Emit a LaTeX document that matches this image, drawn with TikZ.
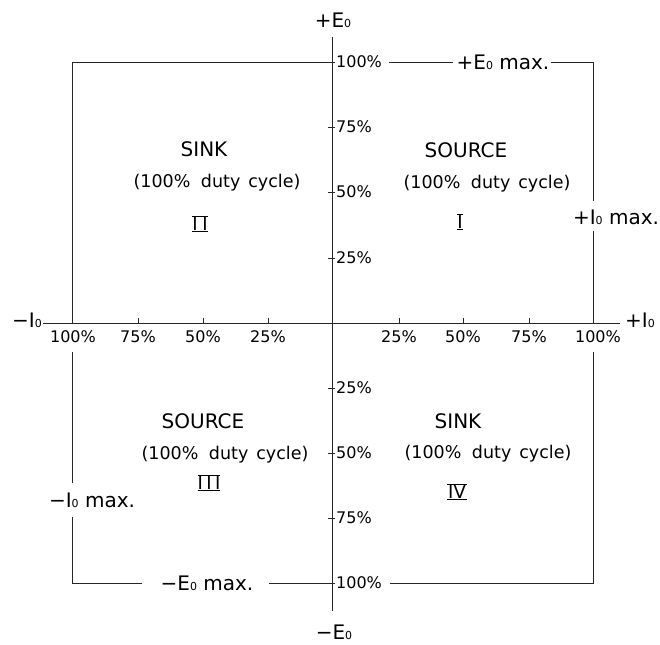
\documentclass[tikz,border=0pt]{standalone}
\usepackage{fontspec}
\setmainfont{DejaVu Sans}
\usepackage{graphicx}
\usetikzlibrary{calc}
\newcommand\zs{\scalebox{0.55}{0}}
\newcommand\dutytext{(100\%\hspace{0.6em}duty\hspace{0.45em}cycle)}
\newcommand\rn[1]{\vbox{\offinterlineskip\hrule height 0.9pt\kern0.4pt\hbox{#1}\kern0.4pt\hrule height 0.9pt}}
\begin{document}
\begin{tikzpicture}[x=1pt,y=-1pt,
  ln/.style={line width=0.9pt, draw=black!85},
  pct/.style={font=\fontsize{16}{16}\selectfont, inner sep=0pt, text height=11.6pt, text depth=0pt},
  lab/.style={font=\fontsize{20}{20}\selectfont, inner sep=0pt, text height=14.6pt, text depth=0pt},
  ttl/.style={font=\fontsize{20}{20}\selectfont, inner sep=0pt, text height=14.6pt, text depth=0pt},
  duty/.style={font=\fontsize{17.5}{17.5}\selectfont, inner sep=0pt, text height=12.75pt, text depth=0pt},
  num/.style={font=\fontsize{18}{18}\selectfont, inner sep=0pt}]
\useasboundingbox (0,0) rectangle (660,644);
% key points
\coordinate (O) at (332,323);
\coordinate (ytop) at (332,37);
\coordinate (ybot) at (332,611);
\coordinate (xleft) at (43,323);
\coordinate (xright) at (620,323);
\coordinate (TL) at (72,62);
\coordinate (TR) at (593,62);
\coordinate (BR) at (593,583);
\coordinate (BL) at (72,583);
\coordinate (T) at (332,62);
\coordinate (B) at (332,583);
\coordinate (L) at (72,323);
\coordinate (R) at (593,323);
% axis names
\node[lab] (Etop) at (333,20) {+E\zs};
\node[lab] (Ebot) at (334,632) {−E\zs};
\node[lab] (Ileft) at (27,320) {−I\zs};
\node[lab] (Iright) at (640,320) {+I\zs};
% limit labels
\node[lab] (Emax) at (503,62) {+E\zs\ max.};
\node[lab] (Emin) at (207,583) {−E\zs\ max.};
\node[lab] (Imax) at (616,217) {+I\zs\ max.};
\node[lab] (Imin) at (92,500) {−I\zs\ max.};
% y scale
\node[pct,anchor=west] (y100) at (336,62) {100\%};
\node[pct,anchor=west] (y75) at (336,127) {75\%};
\node[pct,anchor=west] (y50) at (336,192) {50\%};
\node[pct,anchor=west] (y25) at (336,258) {25\%};
\node[pct,anchor=west] (yn25) at (336,388) {25\%};
\node[pct,anchor=west] (yn50) at (336,453) {50\%};
\node[pct,anchor=west] (yn75) at (336,518) {75\%};
\node[pct,anchor=west] (yn100) at (336,583) {100\%};
% x scale
\node[pct] (xl100) at (73,337) {100\%};
\node[pct] (xl75) at (138,337) {75\%};
\node[pct] (xl50) at (203,337) {50\%};
\node[pct] (xl25) at (268,337) {25\%};
\node[pct] (xr25) at (399,337) {25\%};
\node[pct] (xr50) at (463,337) {50\%};
\node[pct] (xr75) at (529,337) {75\%};
\node[pct] (xr100) at (598,337) {100\%};
% quadrant texts
\node[ttl] (q2t) at (204,149) {SINK};
\node[duty] (q2d) at (217,181) {\dutytext};
\node[num] (q2n) at (200,224) {\rn{I\kern4.5pt I}};
\node[ttl] (q1t) at (466,150) {SOURCE};
\node[duty] (q1d) at (487,182) {\dutytext};
\node[num] (q1n) at (460,222) {\rn{I}};
\node[ttl] (q3t) at (203,421) {SOURCE};
\node[duty] (q3d) at (225,453) {\dutytext};
\node[num] (q3n) at (209,483) {\rn{I\kern3.5pt I\kern3.5pt I}};
\node[ttl] (q4t) at (458,421) {SINK};
\node[duty] (q4d) at (488,452) {\dutytext};
\node[num] (q4n) at (457,492) {\rn{\kern1pt IV\kern1pt}};
% helper points for broken edges
\coordinate (R1) at ($(TR |- Imax.north)+(0,-8)$);
\coordinate (R2) at ($(TR |- Imax.south)+(0,6)$);
\coordinate (R3) at ($(R |- xr100.south)+(0,9)$);
\coordinate (L1) at ($(BL |- Imin.south)+(0,9)$);
\coordinate (L2) at ($(BL |- Imin.north)+(0,-10)$);
\coordinate (L3) at ($(L |- xl100.south)+(0,9)$);
% axes
\draw[ln] (ytop) -- (ybot);
\draw[ln] (xleft) -- (xright);
% ticks
\foreach \y in {62,127,192,258,388,453,518,583} \draw[ln] (328,\y) -- (335,\y);
\foreach \x in {72,138,203,268,399,463,529,593} \draw[ln] (\x,318) -- (\x,323);
% envelope
\draw[ln] (L) -- (TL) -- (T);
\draw[ln] ([xshift=7pt]y100.east) -- ([xshift=-3pt]Emax.west);
\draw[ln] ([xshift=1pt]Emax.east) -- (TR) -- (R1);
\draw[ln] (R2) -- (R);
\draw[ln] (R3) -- (BR) -- ([xshift=8pt]yn100.east);
\draw[ln] (B) -- ([xshift=15pt]Emin.east);
\draw[ln] ([xshift=-18pt]Emin.west) -- (BL) -- (L1);
\draw[ln] (L2) -- (L3);
\end{tikzpicture}
\end{document}
